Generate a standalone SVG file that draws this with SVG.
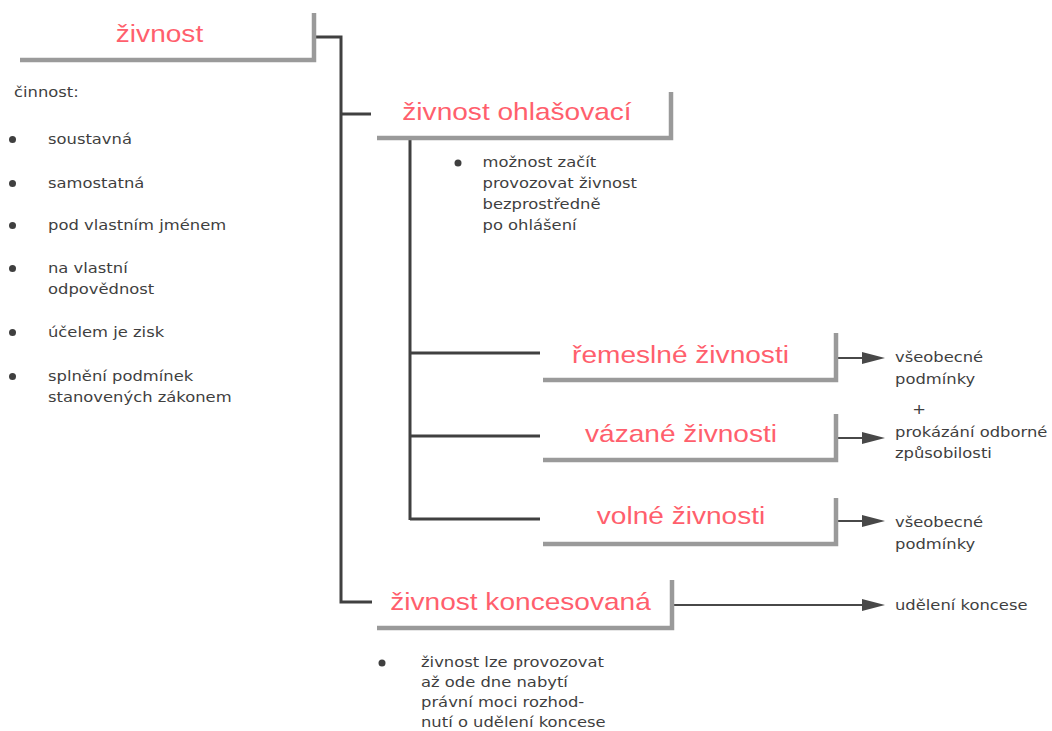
<svg xmlns="http://www.w3.org/2000/svg" width="1052" height="731" viewBox="0 0 1052 731">
<style>
.box{fill:none;stroke:#9a9a9a;stroke-width:4.5;stroke-linejoin:miter;stroke-linecap:butt}
.title{font-family:"Liberation Sans",Arial,sans-serif;font-size:24px;fill:#ff5f6d;text-anchor:middle}
.body{font-family:"DejaVu Sans",Verdana,sans-serif;font-size:14px;fill:#3f3f3f}
.conn{fill:none;stroke:#404040;stroke-width:3}
.arr{fill:none;stroke:#484848;stroke-width:2}
.dot{fill:#3f3f3f}
</style>
<defs>
<marker id="ah" markerUnits="userSpaceOnUse" markerWidth="24" markerHeight="13" refX="0" refY="6" orient="auto">
<path d="M0,0 L23,6 L0,12 Z" fill="#484848"/>
</marker>
</defs>
<rect width="1052" height="731" fill="#ffffff"/>

<g id="connectors">
<path class="conn" d="M316,37 H341 V602 H372"/>
<path class="conn" d="M341,114 H371"/>
<path class="conn" d="M410,140 V520"/>
<path class="conn" d="M410,353 H540"/>
<path class="conn" d="M410,436 H540"/>
<path class="conn" d="M410,519 H540"/>
<path class="arr" d="M838,358 H862" marker-end="url(#ah)"/>
<path class="arr" d="M838,438 H862" marker-end="url(#ah)"/>
<path class="arr" d="M838,521 H862" marker-end="url(#ah)"/>
<path class="arr" d="M674,605 H862" marker-end="url(#ah)"/>
</g>

<g id="node-zivnost">
<path class="box" d="M20,60 H314 V13"/>
<text class="title" transform="translate(159.5,42) scale(1.17,1)">živnost</text>
</g>

<g id="node-cinnost">
<text class="body" transform="translate(14,97) scale(1.17,1)">činnost:</text>
<circle class="dot" cx="12.5" cy="139.5" r="3.5"/>
<text class="body" transform="translate(48,144) scale(1.17,1)">soustavná</text>
<circle class="dot" cx="12.5" cy="183.5" r="3.5"/>
<text class="body" transform="translate(48,188) scale(1.17,1)">samostatná</text>
<circle class="dot" cx="12.5" cy="225.5" r="3.5"/>
<text class="body" transform="translate(48,230) scale(1.17,1)">pod vlastním jménem</text>
<circle class="dot" cx="12.5" cy="268.5" r="3.5"/>
<text class="body" transform="translate(48,273) scale(1.17,1)">na vlastní<tspan x="0" dy="21">odpovědnost</tspan></text>
<circle class="dot" cx="12.5" cy="332.5" r="3.5"/>
<text class="body" transform="translate(48,337) scale(1.17,1)">účelem je zisk</text>
<circle class="dot" cx="12.5" cy="376.5" r="3.5"/>
<text class="body" transform="translate(48,381) scale(1.17,1)">splnění podmínek<tspan x="0" dy="21">stanovených zákonem</tspan></text>
</g>

<g id="node-ohlasovaci">
<path class="box" d="M377,138 H671 V92"/>
<text class="title" transform="translate(517,120) scale(1.17,1)">živnost ohlašovací</text>
<circle class="dot" cx="458" cy="163" r="3.5"/>
<text class="body" transform="translate(482.5,167) scale(1.17,1)">možnost začít<tspan x="0" dy="21">provozovat živnost</tspan><tspan x="0" dy="21">bezprostředně</tspan><tspan x="0" dy="21">po ohlášení</tspan></text>
</g>

<g id="node-remeslne">
<path class="box" d="M543,380 H836 V333"/>
<text class="title" transform="translate(680.5,363) scale(1.17,1)">řemeslné živnosti</text>
</g>

<g id="node-vazane">
<path class="box" d="M543,460 H836 V414"/>
<text class="title" transform="translate(681,442) scale(1.17,1)">vázané živnosti</text>
</g>

<g id="node-volne">
<path class="box" d="M543,544 H836 V498"/>
<text class="title" transform="translate(681,524) scale(1.17,1)">volné živnosti</text>
</g>

<g id="node-koncesovana">
<path class="box" d="M377,628 H672 V580"/>
<text class="title" transform="translate(520.5,610) scale(1.17,1)">živnost koncesovaná</text>
<circle class="dot" cx="382" cy="663" r="3.5"/>
<text class="body" transform="translate(421,667) scale(1.17,1)">živnost lze provozovat<tspan x="0" dy="20">až ode dne nabytí</tspan><tspan x="0" dy="20">právní moci rozhod-</tspan><tspan x="0" dy="20">nutí o udělení koncese</tspan></text>
</g>

<g id="node-podminky1">
<text class="body" transform="translate(895,362) scale(1.17,1)">všeobecné<tspan x="0" dy="22">podmínky</tspan></text>
</g>

<g id="node-plus">
<text class="body" text-anchor="middle" transform="translate(919,414) scale(1.17,1)">+</text>
</g>

<g id="node-odborne">
<text class="body" transform="translate(895,437) scale(1.17,1)">prokázání odborné<tspan x="0" dy="21">způsobilosti</tspan></text>
</g>

<g id="node-podminky2">
<text class="body" transform="translate(895,527) scale(1.17,1)">všeobecné<tspan x="0" dy="22">podmínky</tspan></text>
</g>

<g id="node-koncese">
<text class="body" transform="translate(895,610) scale(1.17,1)">udělení koncese</text>
</g>
</svg>
